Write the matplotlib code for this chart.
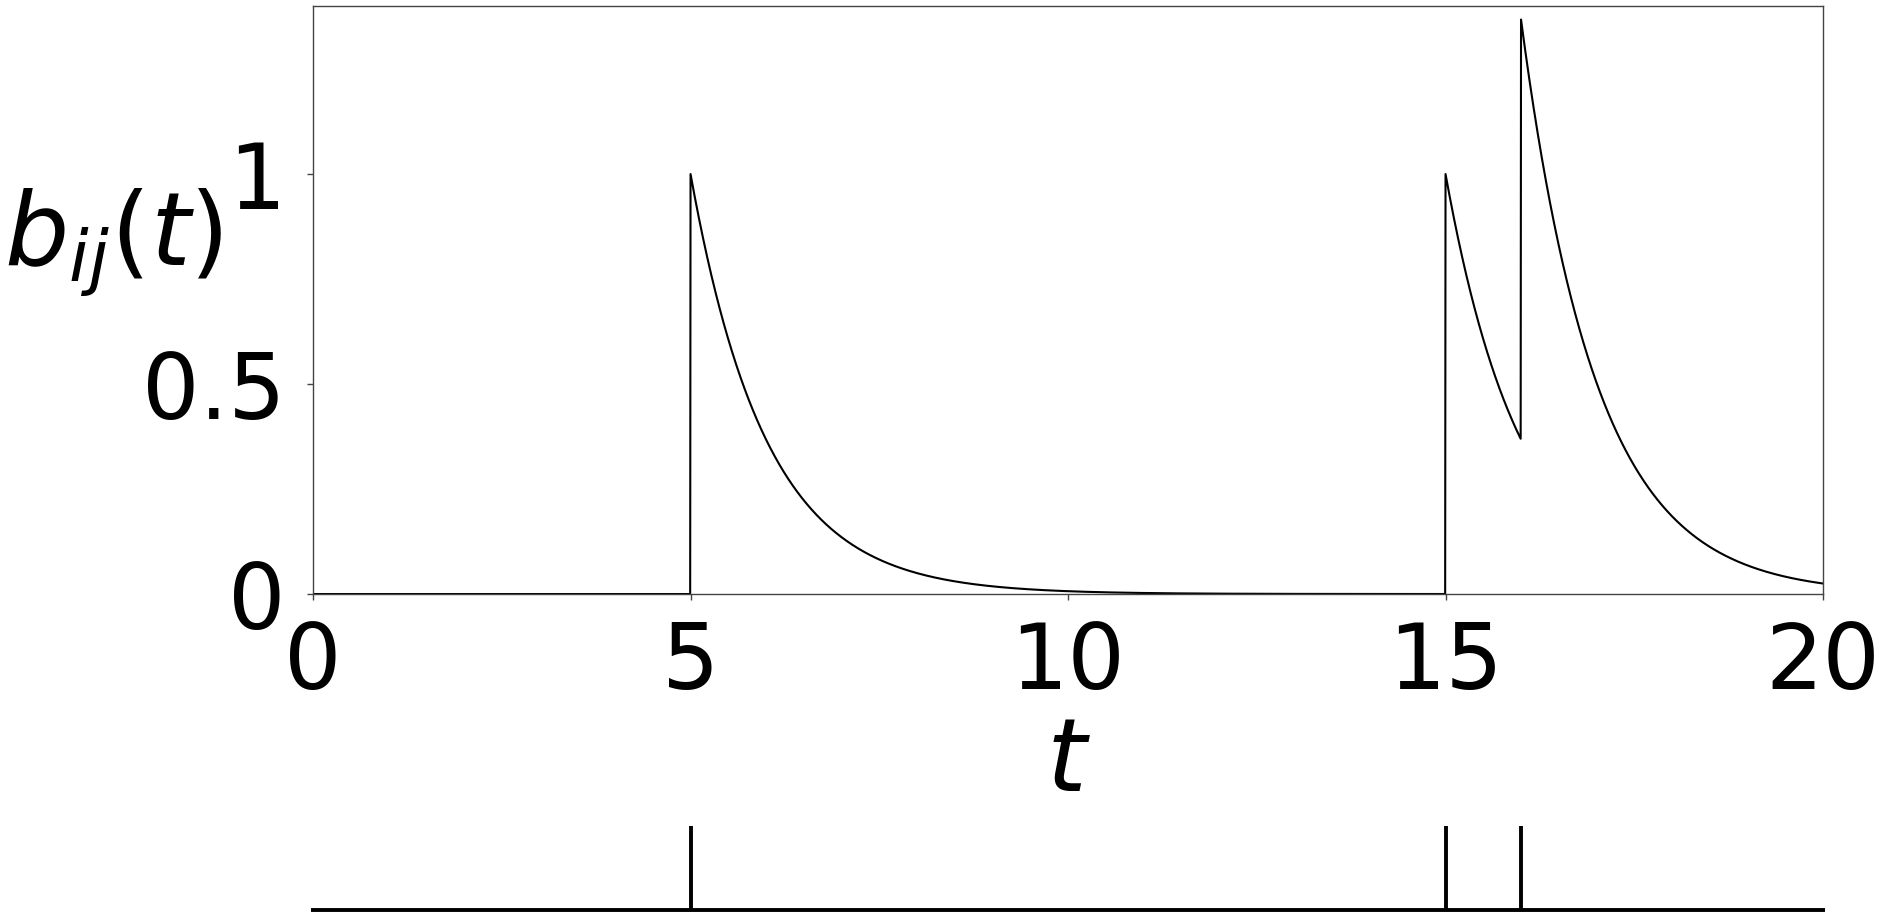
import numpy as np
import matplotlib.pyplot as plt

# event times of the point process and the kernel decay rate
event_times = [5, 15, 16]
decay = 1.0
t_start, t_end = 0, 20
x_ticks = [0, 5, 10, 15, 20]
y_ticks = [0, 0.5, 1]
y_tick_labels = ['0', '0.5', '1']

t = np.linspace(t_start, t_end, 4001)
b = np.zeros_like(t)
for tk in event_times:
    b += np.where(t >= tk, np.exp(-decay * (t - tk)), 0.0)

fig = plt.figure(figsize=(18.87, 9.17), dpi=100)

#---------------------------main panel---------------------------------------
ax = fig.add_axes([0.1659, 0.3522, 0.8002, 0.6412])
ax.plot(t, b, color='black', lw=1.5)
ax.set_xlim(t_start, t_end)
ax.set_ylim(0, 1.4)
ax.set_xticks(x_ticks)
ax.set_yticks(y_ticks)
ax.set_yticklabels(y_tick_labels)
ax.tick_params(axis='both', labelsize=65, length=4, width=1, color='#444444')
ax.tick_params(axis='x', pad=15)
ax.tick_params(axis='y', pad=16)
for s in ax.spines.values():
    s.set_color('#444444')
    s.set_linewidth(1)
ax.set_xlabel(r'$t$', fontsize=73, labelpad=4)
ax.set_ylabel(r'$b_{ij}(t)$', fontsize=73, rotation=0, ha='right', va='center')
ax.yaxis.set_label_coords(-0.06, 0.597)

#---------------------------event strip---------------------------------------
ax2 = fig.add_axes([0.1659, 0.0076, 0.8002, 0.0916])
ax2.set_xlim(t_start, t_end)
ax2.set_ylim(0, 1)
ax2.hlines(0, t_start - 0.03, t_end + 0.03, color='black', lw=2.8, clip_on=False)
ax2.vlines(event_times, 0, 1, color='black', lw=2.8, clip_on=False)
ax2.axis('off')

fig.savefig('out.png', dpi=100)
